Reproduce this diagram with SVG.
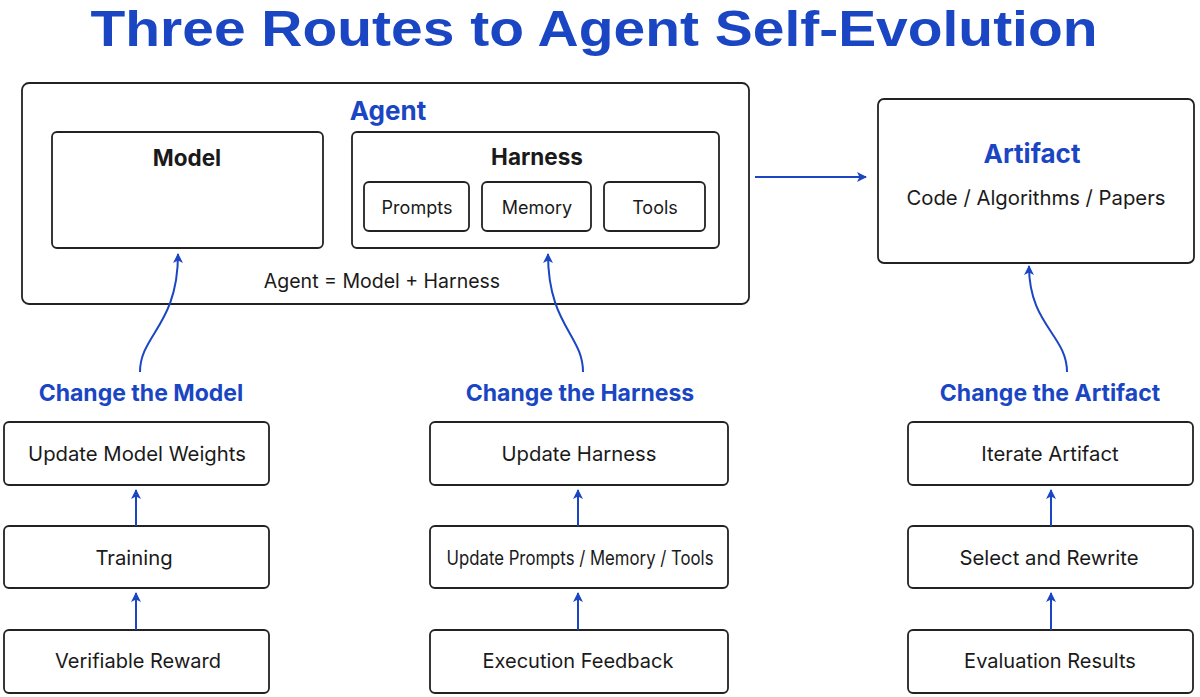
<svg xmlns="http://www.w3.org/2000/svg" width="1200" height="697" viewBox="0 0 1200 697">
<style>
.box{fill:#fff;stroke:#222;stroke-width:1.8}
.t{font-family:Inter,"Liberation Sans",sans-serif;fill:#1a1a1a;text-anchor:middle}
.b{font-family:Inter,"Liberation Sans",sans-serif;font-weight:700;text-anchor:middle}
.blue{fill:#1a46c4}
.dark{fill:#1a1a1a}
.c{fill:none;stroke:#1a46c4;stroke-width:2}
</style>
<defs>
<marker id="ah" viewBox="0 0 10 10" refX="9" refY="5" markerWidth="10" markerHeight="10" markerUnits="userSpaceOnUse" orient="auto"><path d="M0,0 L10,5 L0,10 L2.5,5 Z" fill="#1a46c4"/></marker>
</defs>
<rect width="1200" height="697" fill="#fff"/>
<text x="594" y="46" font-family="'Liberation Sans',Arial,sans-serif" font-weight="700" font-size="50" fill="#1a46c4" text-anchor="middle" textLength="1007" lengthAdjust="spacingAndGlyphs">Three Routes to Agent Self-Evolution</text>

<g id="agent">
<rect class="box" x="22" y="83" width="727" height="221" rx="7"/>
<text class="b blue" x="388" y="120" font-size="26">Agent</text>
<text class="t" x="382" y="288" font-size="19.5">Agent = Model + Harness</text>
</g>
<g id="model">
<rect class="box" x="52" y="132" width="271" height="116" rx="5"/>
<text class="b dark" x="187" y="166" font-size="22.5">Model</text>
</g>
<g id="harness">
<rect class="box" x="352" y="132" width="367" height="116" rx="5"/>
<text class="b dark" x="537" y="165" font-size="22.5">Harness</text>
</g>
<g id="prompts">
<rect class="box" x="364" y="182" width="105" height="49" rx="5"/>
<text class="t" x="417" y="214" font-size="18">Prompts</text>
</g>
<g id="memory">
<rect class="box" x="482" y="182" width="109" height="49" rx="5"/>
<text class="t" x="537" y="214" font-size="18">Memory</text>
</g>
<g id="tools">
<rect class="box" x="604" y="182" width="101" height="49" rx="5"/>
<text class="t" x="655" y="214" font-size="18">Tools</text>
</g>
<g id="artifact">
<rect class="box" x="878" y="99" width="316" height="164" rx="6"/>
<text class="b blue" x="1032" y="163" font-size="26">Artifact</text>
<text class="t" x="1036" y="205" font-size="20.3">Code / Algorithms / Papers</text>
</g>

<g id="label-model"><text class="b blue" x="141" y="401" font-size="23">Change the Model</text></g>
<g id="label-harness"><text class="b blue" x="580" y="401" font-size="23">Change the Harness</text></g>
<g id="label-artifact"><text class="b blue" x="1050" y="401" font-size="23">Change the Artifact</text></g>

<g id="update-weights"><rect class="box" x="4" y="422" width="265" height="63" rx="5"/><text class="t" x="137" y="461" font-size="20.3">Update Model Weights</text></g>
<g id="training"><rect class="box" x="4" y="526" width="265" height="62" rx="5"/><text class="t" x="134" y="565" font-size="20.3">Training</text></g>
<g id="reward"><rect class="box" x="4" y="630" width="265" height="63" rx="5"/><text class="t" x="138" y="668" font-size="20">Verifiable Reward</text></g>

<g id="update-harness"><rect class="box" x="430" y="422" width="298" height="63" rx="5"/><text class="t" x="579" y="461" font-size="20.3">Update Harness</text></g>
<g id="update-pmt"><rect class="box" x="430" y="526" width="298" height="62" rx="5"/><text class="t" x="580" y="565" font-size="19.5" textLength="267" lengthAdjust="spacingAndGlyphs">Update Prompts / Memory / Tools</text></g>
<g id="exec-feedback"><rect class="box" x="430" y="630" width="298" height="63" rx="5"/><text class="t" x="578" y="668" font-size="20">Execution Feedback</text></g>

<g id="iterate"><rect class="box" x="908" y="422" width="285" height="63" rx="5"/><text class="t" x="1050" y="461" font-size="20.3">Iterate Artifact</text></g>
<g id="select"><rect class="box" x="908" y="526" width="285" height="62" rx="5"/><text class="t" x="1049" y="565" font-size="20.3">Select and Rewrite</text></g>
<g id="eval"><rect class="box" x="908" y="630" width="285" height="63" rx="5"/><text class="t" x="1050" y="668" font-size="20">Evaluation Results</text></g>

<g id="connectors">
<path class="c" d="M755,177 L866,177" marker-end="url(#ah)"/>
<path class="c" d="M140,372 C140,335 178,325 178,254" marker-end="url(#ah)"/>
<path class="c" d="M583,372 C583,335 548,325 548,254" marker-end="url(#ah)"/>
<path class="c" d="M1067,372 C1067,335 1029,325 1029,266" marker-end="url(#ah)"/>
<path class="c" d="M136,526 L136,490" marker-end="url(#ah)"/>
<path class="c" d="M136,630 L136,593" marker-end="url(#ah)"/>
<path class="c" d="M578,526 L578,490" marker-end="url(#ah)"/>
<path class="c" d="M578,630 L578,593" marker-end="url(#ah)"/>
<path class="c" d="M1051,526 L1051,490" marker-end="url(#ah)"/>
<path class="c" d="M1051,630 L1051,593" marker-end="url(#ah)"/>
</g>
</svg>
